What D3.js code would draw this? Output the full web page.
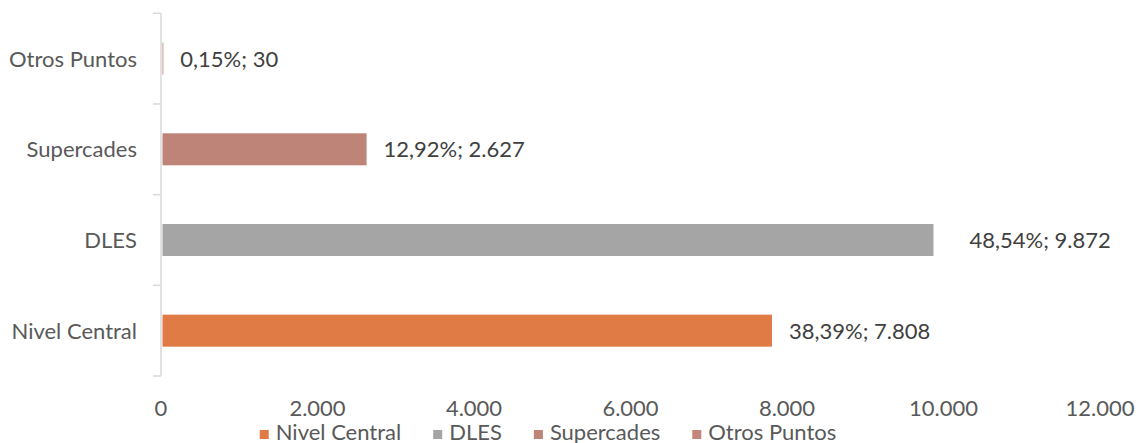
<!DOCTYPE html>
<html>
<head>
<meta charset="utf-8">
<script src="https://cdn.jsdelivr.net/npm/d3@7/dist/d3.min.js"></script>
<style>
  html, body { margin: 0; padding: 0; background: #fff; }
  svg { display: block; font-family: Lato, "Open Sans", sans-serif; }
</style>
</head>
<body>
<svg id="chart" width="1136" height="443"></svg>
<script>
// ---- data ----
const categories = ["Nivel Central", "DLES", "Supercades", "Otros Puntos"];
const values = [7808, 9872, 2627, 30];
const percents = ["38,39%", "48,54%", "12,92%", "0,15%"];
const xTicks = [0, 2000, 4000, 6000, 8000, 10000, 12000];
const colors = ["#E07B45", "#A5A5A5", "#BF8478", "#C4877B"];

// ---- layout / style ----
const W = 1136, H = 443;
const plot = { left: 161, right: 1100, top: 13.3, bottom: 376 };
const fontSize = 22;
const catColor = "#595959", valColor = "#404040", axisColor = "#D9D9D9";
const labelDx = { "DLES": 36 };   // label offsets (style)
const defaultDx = 17;

const locale = d3.formatLocale({ decimal: ",", thousands: ".", grouping: [3], currency: ["", ""] });
const fmt = locale.format(",d");

const svg = d3.select("#chart");

const x = d3.scaleLinear().domain([0, 12000]).range([plot.left, plot.right]);
const order = categories.slice().reverse(); // top to bottom
const pInner = 0.647;
const y = d3.scaleBand().domain(order).range([plot.top, plot.bottom])
  .paddingInner(pInner).paddingOuter(pInner / 2);

const data = categories.map((c, i) => ({ cat: c, value: values[i], pct: percents[i], color: colors[i] }));

// y axis line + ticks at band boundaries
const yIdx = d3.scaleLinear().domain([0, order.length]).range([plot.top, plot.bottom]);
const gAxis = svg.append("g");
gAxis.append("line")
  .attr("x1", plot.left).attr("x2", plot.left)
  .attr("y1", yIdx(0)).attr("y2", yIdx(order.length))
  .attr("stroke", axisColor).attr("stroke-width", 1.5);
gAxis.selectAll("line.tick").data(d3.range(order.length + 1)).join("line")
  .attr("class", "tick")
  .attr("x1", plot.left - 8).attr("x2", plot.left)
  .attr("y1", d => yIdx(d)).attr("y2", d => yIdx(d))
  .attr("stroke", axisColor).attr("stroke-width", 1.5);

// category labels
svg.append("g").selectAll("text").data(order).join("text")
  .attr("x", 137)
  .attr("y", d => y(d) + y.bandwidth() / 2)
  .attr("dy", "0.36em")
  .attr("text-anchor", "end")
  .attr("font-size", fontSize)
  .attr("fill", catColor)
  .text(d => d);

// x tick labels
svg.append("g").selectAll("text").data(xTicks).join("text")
  .attr("x", d => x(d))
  .attr("y", 416)
  .attr("text-anchor", "middle")
  .attr("font-size", fontSize)
  .attr("fill", catColor)
  .text(d => fmt(d));

// bars
svg.append("g").selectAll("rect").data(data).join("rect")
  .attr("x", x(0) + 1.5)
  .attr("y", d => y(d.cat))
  .attr("width", d => Math.max(0, x(d.value) - x(0) - 1.5))
  .attr("height", y.bandwidth())
  .attr("fill", d => d.color);

// value labels
svg.append("g").selectAll("text").data(data).join("text")
  .attr("x", d => x(d.value) + (labelDx[d.cat] !== undefined ? labelDx[d.cat] : defaultDx))
  .attr("y", d => y(d.cat) + y.bandwidth() / 2)
  .attr("dy", "0.36em")
  .attr("font-size", fontSize)
  .attr("fill", valColor)
  .text(d => d.pct + "; " + fmt(d.value));

// legend
const legend = svg.append("g");
const items = legend.selectAll("g").data(data).join("g");
items.append("rect").attr("width", 9).attr("height", 9).attr("y", -9.5).attr("fill", d => d.color);
items.append("text").attr("x", 16).attr("font-size", fontSize).attr("fill", catColor).text(d => d.cat);
let cx = 0;
const gap = 32;
items.each(function () {
  const g = d3.select(this);
  const w = 16 + g.select("text").node().getComputedTextLength();
  g.attr("transform", `translate(${cx},0)`);
  cx += w + gap;
});
const total = cx - gap;
legend.attr("transform", `translate(${548 - total / 2},439.5)`);
</script>
</body>
</html>
